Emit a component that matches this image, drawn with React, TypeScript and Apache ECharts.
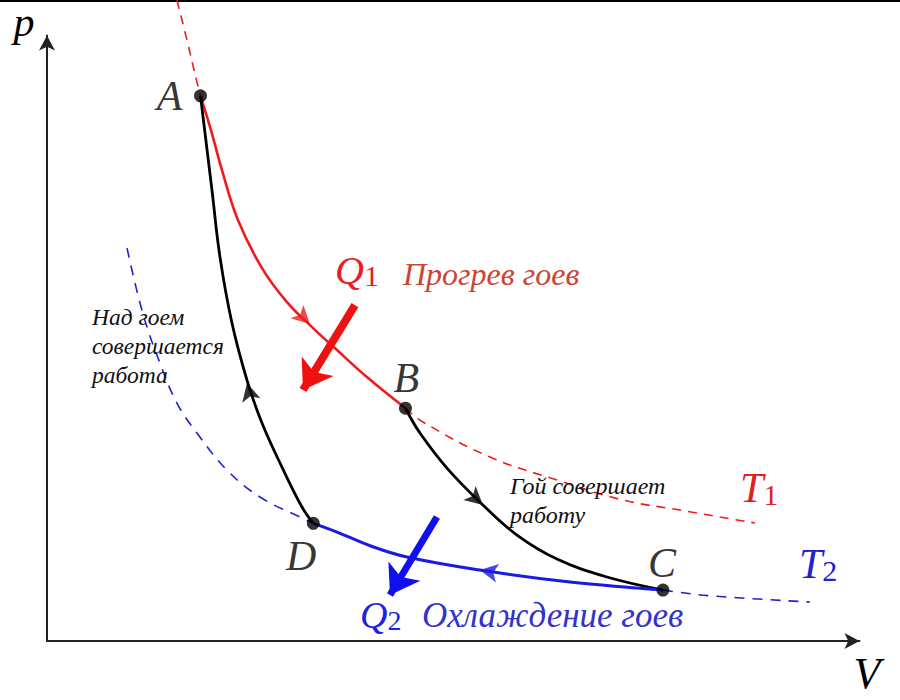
import React, { useEffect, useRef } from "react";
import * as echarts from "echarts";

type Pt = [number, number];

// [V, p] points
const isothermT1Top: Pt[] = [[1.585, 10.457], [1.707, 9.804], [1.829, 9.119], [1.872, 8.896]];
const isothermT1AB: Pt[] = [
  [1.872, 8.896], [2.0, 8.336], [2.134, 7.684], [2.329, 6.868], [2.622, 6.085], [2.927, 5.53],
  [3.232, 5.122], [3.537, 4.747], [3.902, 4.307], [4.372, 3.798],
];
const isothermT1Tail: Pt[] = [
  [4.372, 3.798], [4.585, 3.573], [5.402, 3.002], [6.22, 2.626], [7.024, 2.3], [7.72, 2.137], [8.634, 1.925],
];
const adiabatAD: Pt[] = [
  [1.872, 8.896], [2.012, 7.357], [2.11, 6.264], [2.256, 5.188], [2.439, 4.258],
  [2.622, 3.556], [2.866, 2.838], [3.11, 2.186], [3.248, 1.92],
];
const adiabatBC: Pt[] = [
  [4.372, 3.798], [4.549, 3.393], [4.878, 2.822], [5.317, 2.219], [5.732, 1.729],
  [6.22, 1.338], [6.829, 1.044], [7.512, 0.832],
];
const isothermT2DC: Pt[] = [
  [3.248, 1.92], [3.537, 1.778], [3.95, 1.55], [4.39, 1.37], [5.28, 1.158], [6.378, 0.962], [7.195, 0.865], [7.512, 0.832],
];
const isothermT2Head: Pt[] = [
  [0.976, 6.411], [1.171, 5.335], [1.378, 4.535], [1.585, 3.883], [1.829, 3.393],
  [2.195, 2.789], [2.598, 2.349], [3.085, 2.023], [3.248, 1.92],
];
const isothermT2Tail: Pt[] = [[7.512, 0.832], [7.683, 0.799], [8.122, 0.734], [9.305, 0.636]];

const stateNames = ["A", "B", "C", "D"];
const stateV = [1.872, 4.372, 7.512, 3.248];
const stateP = [8.896, 3.798, 0.832, 1.92];

// direction markers on the cycle: position and a point further along the path
const flowAt: Pt[] = [[3.207, 5.171], [2.439, 4.209], [5.317, 2.219], [5.28, 1.158]];
const flowToward: Pt[] = [[3.537, 4.747], [2.256, 5.188], [5.732, 1.729], [4.39, 1.37]];

// heat arrows (start, tip)
const heatQ1: Pt[] = [[3.756, 5.481], [3.122, 4.095]];
const heatQ2: Pt[] = [[4.756, 2.023], [4.183, 0.75]];

const V_MAX = 9.91;
const P_MAX = 9.88;

const RED = "#ee1c1c";
const BLUE = "#1a1ae0";
const SERIF = "'Liberation Serif', 'DejaVu Serif', serif";

export default function App() {
  const ref = useRef<HTMLDivElement>(null);

  useEffect(() => {
    if (!ref.current) return;
    const chart = echarts.init(ref.current, null, { renderer: "svg", width: 900, height: 700 });

    const curve = (id: string, data: Pt[], color: string, width: number, type: any) => ({
      id,
      type: "line",
      data,
      smooth: 0.4,
      symbol: "none",
      showSymbol: false,
      clip: false,
      silent: true,
      z: type === "solid" ? 3 : 2,
      lineStyle: { color, width, type },
    });

    const flowColors = [RED, "#000", "#000", BLUE];
    const labelOffsets: Pt[] = [[-31, 0], [1, -30], [-1, -27], [-12, 33]];

    const mathText = (text: string, x: number, y: number, size: number, color: string) => ({
      type: "text",
      x,
      y,
      silent: true,
      z: 10,
      style: {
        text,
        fontFamily: SERIF,
        fontStyle: "italic",
        fontSize: size,
        fill: color,
        align: "center",
        verticalAlign: "middle",
      },
    });
    const subText = (
      main: string, sub: string, x: number, y: number,
      size: number, subSize: number, subBox: number, color: string,
    ) => ({
      type: "text",
      x,
      y,
      silent: true,
      z: 10,
      style: {
        text: `{m|${main}}{s|${sub}}`,
        align: "left",
        verticalAlign: "middle",
        rich: {
          m: { fontFamily: SERIF, fontStyle: "italic", fontSize: size, lineHeight: size, fill: color },
          s: { fontFamily: SERIF, fontStyle: "normal", fontSize: subSize, lineHeight: subBox, fill: color, verticalAlign: "bottom" },
        },
      },
    });
    const prose = (text: string, x: number, y: number, size: number, color: string, lh: number) => ({
      type: "text",
      x,
      y,
      silent: true,
      z: 10,
      style: {
        text,
        fontFamily: SERIF,
        fontStyle: "italic",
        fontSize: size,
        lineHeight: lh,
        fill: color,
        align: "left",
        verticalAlign: "middle",
      },
    });

    const axisLine = {
      show: true,
      symbol: ["none", "arrow"],
      symbolSize: [12, 15],
      lineStyle: { color: "#222", width: 2 },
    };

    const option: any = {
      animation: false,
      backgroundColor: "#fff",
      grid: { left: 47, right: 40.5, top: 35.5, bottom: 59 },
      xAxis: {
        type: "value",
        min: 0,
        max: V_MAX,
        axisLine,
        axisTick: { show: false },
        axisLabel: { show: false },
        splitLine: { show: false },
      },
      yAxis: {
        type: "value",
        min: 0,
        max: P_MAX,
        axisLine,
        axisTick: { show: false },
        axisLabel: { show: false },
        splitLine: { show: false },
      },
      graphic: [
        { type: "rect", shape: { x: 0, y: 0, width: 900, height: 2 }, style: { fill: "#000" }, silent: true },
        mathText("p", 24, 22, 42, "#000"),
        mathText("V", 867, 673, 44, "#000"),
        subText("Q", "1", 335, 270, 40, 30, 14, RED),
        prose("Прогрев гоев", 403, 274, 32, "#cc4433", 32),
        subText("T", "1", 740, 488, 42, 30, 16, "#dd2222"),
        subText("T", "2", 799, 564, 42, 30, 18, "#2222cc"),
        subText("Q", "2", 360, 615, 38, 28, 12, "#2222dd"),
        prose("Охлаждение гоев", 422, 615, 35, "#3333cc", 36),
        prose("Над гоем\nсовершается\nработа", 92, 345.6, 23.5, "#111", 29),
        prose("Гой совершает\nработу", 510, 500, 24, "#111", 29),
      ],
      series: [
        curve("t1top", isothermT1Top, RED, 1.6, [9, 7]),
        curve("t1tail", isothermT1Tail, RED, 1.6, [9, 7]),
        curve("t2head", isothermT2Head, "#2222cc", 1.6, [10, 8]),
        curve("t2tail", isothermT2Tail, "#2222cc", 1.6, [10, 8]),
        curve("t1ab", isothermT1AB, RED, 2.6, "solid"),
        curve("ad", adiabatAD, "#000", 2.8, "solid"),
        curve("bc", adiabatBC, "#000", 2.8, "solid"),
        curve("t2dc", isothermT2DC, BLUE, 3, "solid"),
        {
          id: "q1",
          type: "lines",
          coordinateSystem: "cartesian2d",
          symbol: ["none", "arrow"],
          symbolSize: 28,
          silent: true,
          z: 4,
          lineStyle: { color: "#f01010", width: 8, opacity: 1, curveness: 0 },
          data: [{ coords: heatQ1 }],
        },
        {
          id: "q2",
          type: "lines",
          coordinateSystem: "cartesian2d",
          symbol: ["none", "arrow"],
          symbolSize: 28,
          silent: true,
          z: 4,
          lineStyle: { color: "#1010ee", width: 7, opacity: 1, curveness: 0 },
          data: [{ coords: heatQ2 }],
        },
        {
          id: "flow",
          type: "scatter",
          symbol: "arrow",
          symbolSize: [14, 18],
          silent: true,
          z: 5,
          data: flowAt.map((p, i) => ({ value: p, itemStyle: { color: flowColors[i] } })),
        },
        {
          id: "states",
          type: "scatter",
          symbol: "circle",
          symbolSize: 13,
          silent: true,
          z: 6,
          itemStyle: { color: "#000" },
          label: {
            show: true,
            position: "inside",
            formatter: (d: any) => d.name,
            fontFamily: SERIF,
            fontStyle: "italic",
            fontSize: 42,
            color: "#000",
          },
          data: stateNames.map((n, i) => ({
            name: n,
            value: [stateV[i], stateP[i]],
            label: { offset: labelOffsets[i] },
          })),
        },
      ],
    };

    chart.setOption(option);

    const flowData = flowAt.map((p, i) => {
      const a = chart.convertToPixel({ gridIndex: 0 }, p) as number[];
      const b = chart.convertToPixel({ gridIndex: 0 }, flowToward[i]) as number[];
      const theta = (Math.atan2(-(b[1] - a[1]), b[0] - a[0]) * 180) / Math.PI;
      return { value: p, symbolRotate: theta - 90, itemStyle: { color: flowColors[i] } };
    });
    chart.setOption({ series: [{ id: "flow", data: flowData }] });

    return () => chart.dispose();
  }, []);

  return (
    <div
      ref={ref}
      style={{ position: "fixed", left: 0, top: 0, width: 900, height: 700, background: "#fff" }}
    />
  );
}
